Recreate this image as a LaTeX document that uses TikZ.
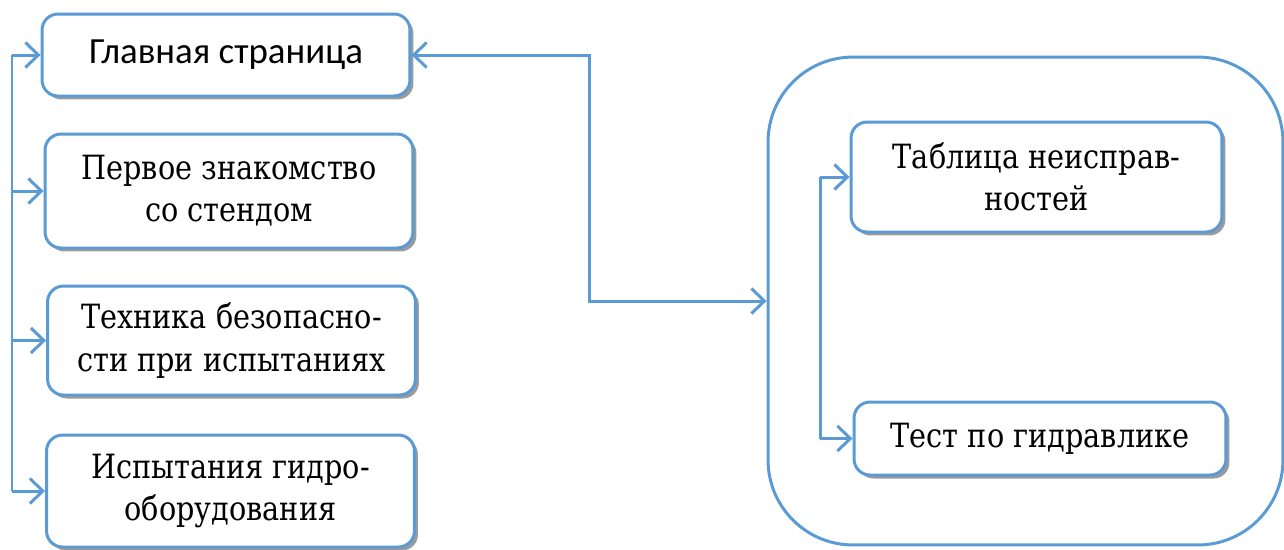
\documentclass[tikz,border=0pt]{standalone}
\usepackage{fontspec}
\newfontfamily\serifcyr{DejaVu Serif}[FakeStretch=0.86]
\newfontfamily\calibri{Carlito}
\usetikzlibrary{arrows.meta,shadows,positioning}

\definecolor{lineblue}{RGB}{91,155,213}
\definecolor{shadegray}{RGB}{155,155,155}

\tikzset{
  box/.style={draw=lineblue, line width=1.7pt, fill=white, rounded corners=0.32cm,
    minimum width=7.36cm, align=center, font=\serifcyr\fontsize{19}{24}\selectfont,
    drop shadow={shadow xshift=0.07cm, shadow yshift=-0.07cm, fill=shadegray, opacity=1}},
  link/.style={draw=lineblue, line width=1.7pt},
  barb/.tip={Straight Barb[length=0.26cm, width=0.5cm]},
  arr/.style={link, -barb},
}

\begin{document}
\begin{tikzpicture}[x=0.02cm, y=-0.02cm]

\useasboundingbox (0,0) rectangle (1284,549);

\node[draw=lineblue, line width=1.7pt, rounded corners=1.7cm, minimum width=10.3cm, minimum height=9.76cm] (grp) at (1025.5,301) {};

\node[box, font=\calibri\fontsize{21}{25}\selectfont, minimum height=1.64cm] (main) at (226,55) {Главная страница};
\node[box, minimum height=2.28cm] (first) at (229,191) {Первое знакомство\\со стендом};
\node[box, minimum height=2.18cm] (safety) at (231.5,340.5) {Техника безопасно-\\сти при испытаниях};
\node[box, minimum height=2.24cm] (hydro) at (230.5,491) {Испытания гидро-\\оборудования};

\node[box, minimum width=7.42cm, minimum height=2.2cm] (tab) at (1036.5,177) {Таблица неисправ-\\ностей};
\node[box, minimum width=7.44cm, minimum height=1.46cm] (test) at (1040,438.5) {Тест по гидравлике};

\coordinate (bus) at (12,0);
\coordinate (turn) at (589,301);
\coordinate (ibus) at (820,0);

\draw[link] (bus |- main.west) -- (bus |- hydro.west);
\foreach \n in {main,first,safety,hydro}
  \draw[arr] (bus |- \n.west) -- (\n.west);

\draw[link, barb-barb] (main.east) -| (turn) -- (grp.west);

\draw[link] (ibus |- tab.west) -- (ibus |- test.west);
\foreach \n in {tab,test}
  \draw[arr] (ibus |- \n.west) -- (\n.west);

\end{tikzpicture}
\end{document}
